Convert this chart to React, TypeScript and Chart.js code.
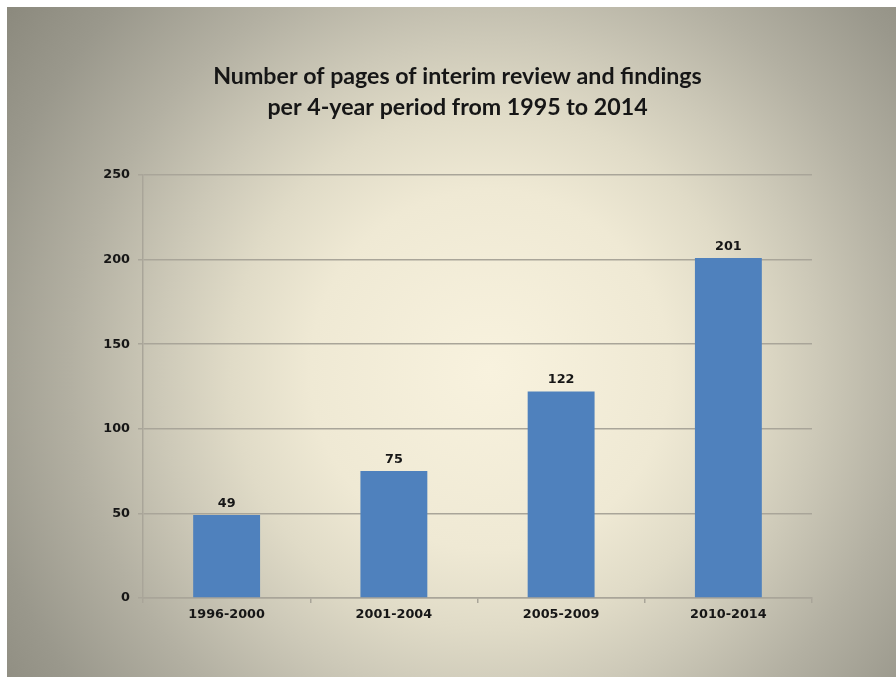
import React, { useEffect, useRef } from "react";
import { Chart, registerables } from "chart.js";

Chart.register(...registerables);

const categories = ["1996-2000", "2001-2004", "2005-2009", "2010-2014"];
const pages = [49, 75, 122, 201];
const titleLines = [
  "Number of pages of interim review and findings",
  "per 4-year period from 1995 to 2014",
];
const yMin = 0;
const yMax = 250;
const yStep = 50;

const barColor = "#4f81bd";
const gridColor = "#a9a599";
const textColor = "#161616";
const tickFont = { family: "'DejaVu Sans', Verdana, sans-serif", weight: "bold" as const, size: 12.8 };

const valueLabels = {
  id: "valueLabels",
  afterDatasetsDraw(chart: any) {
    const ctx = chart.ctx;
    const meta = chart.getDatasetMeta(0);
    const data = chart.data.datasets[0].data as number[];
    ctx.save();
    ctx.font = `bold ${tickFont.size}px ${tickFont.family}`;
    ctx.fillStyle = textColor;
    ctx.textAlign = "center";
    ctx.textBaseline = "bottom";
    meta.data.forEach((el: any, i: number) => {
      ctx.fillText(String(data[i]), el.x, el.y - 5);
    });
    ctx.restore();
  },
};

const centeredTitle = {
  id: "centeredTitle",
  afterDraw(chart: any) {
    const ctx = chart.ctx;
    ctx.save();
    ctx.font = `bold 23.2px Lato, 'Open Sans', sans-serif`;
    ctx.fillStyle = textColor;
    ctx.textAlign = "center";
    ctx.textBaseline = "alphabetic";
    const cx = chart.width / 2 + 6;
    titleLines.forEach((line, i) => {
      ctx.fillText(line, cx, 77 + i * 31);
    });
    ctx.restore();
  },
};

export default function App() {
  const ref = useRef<HTMLCanvasElement>(null);
  useEffect(() => {
    if (!ref.current) return;
    const chart = new Chart(ref.current, {
      type: "bar",
      data: {
        labels: categories,
        datasets: [
          {
            data: pages,
            backgroundColor: barColor,
            borderWidth: 0,
            barPercentage: 0.4,
            categoryPercentage: 1.0,
          },
        ],
      },
      options: {
        animation: false,
        responsive: true,
        maintainAspectRatio: false,
        layout: { padding: { left: 0, right: 84, top: 168, bottom: 0 } },
        plugins: {
          legend: { display: false },
          tooltip: { enabled: false },
          title: { display: false },
        },
        scales: {
          x: {
            offset: true,
            grid: {
              offset: true,
              drawOnChartArea: false,
              drawTicks: true,
              tickLength: 5,
              color: gridColor,
              lineWidth: 1.5,
            },
            border: { display: true, color: gridColor, width: 1.5 },
            ticks: { color: textColor, font: tickFont, padding: 4, maxRotation: 0 },
            afterFit(scale: any) {
              scale.height = 79;
            },
          },
          y: {
            min: yMin,
            max: yMax,
            ticks: { stepSize: yStep, color: textColor, font: tickFont, padding: 8 },
            grid: { color: gridColor, lineWidth: 1.5, drawTicks: true, tickLength: 5 },
            border: { display: true, color: gridColor, width: 1.5 },
            afterFit(scale: any) {
              scale.width = 136;
            },
          },
        },
      },
      plugins: [valueLabels, centeredTitle],
    });
    return () => chart.destroy();
  }, []);

  return (
    <div
      style={{
        position: "fixed",
        left: 7,
        top: 7,
        width: 889,
        height: 670,
        background:
          "radial-gradient(circle 600px at 483px 363px, #f8f2de 0px, #efe9d4 180px, #e0dbc7 260px, #cdc9b8 330px, #b3b0a2 420px, #9a988c 520px, #8c8a7e 600px)",
      }}
    >
      <canvas ref={ref} />
    </div>
  );
}
